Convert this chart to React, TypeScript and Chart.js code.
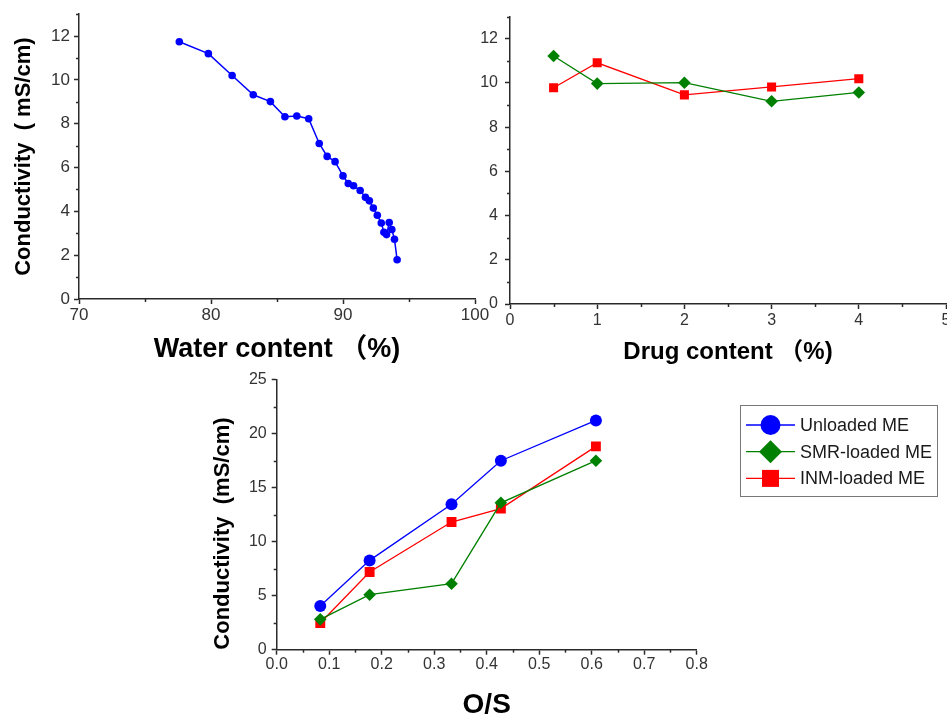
import React, { useEffect, useRef } from "react";
import { Chart, registerables } from "chart.js";

Chart.register(...registerables);

// ---------- data ----------
const waterContent = [77.6, 79.8, 81.6, 83.2, 84.5, 85.6, 86.5, 87.4, 88.2, 88.8, 89.4, 90.0, 90.4, 90.8, 91.3, 91.7, 92.0, 92.3, 92.6, 92.9, 93.1, 93.3, 93.5, 93.7, 93.9, 94.1];
const conductivityByWater = [11.74, 11.2, 10.2, 9.32, 9.01, 8.32, 8.35, 8.23, 7.1, 6.51, 6.27, 5.62, 5.27, 5.17, 4.95, 4.64, 4.48, 4.15, 3.82, 3.47, 3.05, 2.94, 3.49, 3.17, 2.73, 1.79];

const drugContent = [0.5, 1, 2, 3, 4];
const smrByDrug = [11.22, 9.97, 10.01, 9.17, 9.57];
const inmByDrug = [9.78, 10.91, 9.46, 9.82, 10.19];

const osRatio = [0.083, 0.177, 0.333, 0.427, 0.608];
const unloadedByOS = [4.04, 8.27, 13.46, 17.5, 21.23];
const smrByOS = [2.81, 5.09, 6.11, 13.6, 17.5];
const inmByOS = [2.47, 7.19, 11.82, 13.06, 18.83];

const legendLabels = ["Unloaded ME", "SMR-loaded ME", "INM-loaded ME"];

const waterTicks = [70, 80, 90, 100];
const topConductTicks = [0, 2, 4, 6, 8, 10, 12];
const drugTicks = [0, 1, 2, 3, 4, 5];
const osTicks = [0, 0.1, 0.2, 0.3, 0.4, 0.5, 0.6, 0.7, 0.8];
const bottomConductTicks = [0, 5, 10, 15, 20, 25];

// ---------- styles ----------
const FONT = "'Liberation Sans', Arial, 'Noto Sans CJK SC', sans-serif";
const AXIS = "#2a2a2a";
const TICK_TEXT = "#333333";
const BLUE = "#0000ff";
const GREEN = "#008000";
const RED = "#ff0000";
const CW = 1000;
const CH = 760;

const pts = (xs: number[], ys: number[]) => xs.map((x, i) => ({ x, y: ys[i] }));

const minorTicksPlugin = {
  id: "minorTicks",
  afterDraw(chart: any, _args: any, opts: any) {
    const ctx = chart.ctx;
    const area = chart.chartArea;
    ctx.save();
    ctx.strokeStyle = AXIS;
    ctx.lineWidth = 1.5;
    for (const id of ["x", "y"]) {
      const step = opts[id];
      if (!step) continue;
      const scale = chart.scales[id];
      const n = Math.round((scale.max - scale.min) / step);
      for (let i = 0; i <= n; i++) {
        const v = scale.min + i * step;
        if (scale.ticks.some((t: any) => Math.abs(t.value - v) < step * 1e-3)) continue;
        const p = Math.round(scale.getPixelForValue(v)) + 0.5;
        ctx.beginPath();
        if (id === "x") {
          ctx.moveTo(p, area.bottom);
          ctx.lineTo(p, area.bottom + 3);
        } else {
          ctx.moveTo(area.left, p);
          ctx.lineTo(area.left - 3, p);
        }
        ctx.stroke();
      }
    }
    ctx.restore();
  },
};

const boxLegendPlugin = {
  id: "boxLegend",
  afterDraw(chart: any, _args: any, opts: any) {
    if (!opts || !opts.display) return;
    const ctx = chart.ctx;
    const { left, top, width, height, rowTop, rowGap, lineX0, lineX1, textX, fontSize } = opts;
    ctx.save();
    ctx.strokeStyle = "#777";
    ctx.lineWidth = 1;
    ctx.strokeRect(left + 0.5, top + 0.5, width, height);
    chart.data.datasets.forEach((ds: any, i: number) => {
      const y = rowTop + i * rowGap;
      const cx = (lineX0 + lineX1) / 2;
      ctx.strokeStyle = ds.borderColor;
      ctx.lineWidth = 1.3;
      ctx.beginPath();
      ctx.moveTo(lineX0, y);
      ctx.lineTo(lineX1, y);
      ctx.stroke();
      ctx.fillStyle = ds.backgroundColor;
      ctx.beginPath();
      const r = opts.markerSizes[i];
      if (ds.pointStyle === "circle") {
        ctx.arc(cx, y, r, 0, Math.PI * 2);
      } else if (ds.pointStyle === "rectRot") {
        ctx.moveTo(cx - r, y);
        ctx.lineTo(cx, y - r);
        ctx.lineTo(cx + r, y);
        ctx.lineTo(cx, y + r);
        ctx.closePath();
      } else {
        ctx.rect(cx - r, y - r, 2 * r, 2 * r);
      }
      ctx.fill();
      ctx.fillStyle = "#1a1a1a";
      ctx.font = `${fontSize}px ${FONT}`;
      ctx.textBaseline = "middle";
      ctx.textAlign = "left";
      ctx.fillText(ds.label, textX, y + 1);
    });
    ctx.restore();
  },
};

Chart.register(minorTicksPlugin as any, boxLegendPlugin as any);

function axis(opts: {
  min: number;
  max: number;
  ticks: number[];
  fmt: (v: number) => string;
  tickSize: number;
  tickPad: number;
  fit: number;
  horizontal: boolean;
  title?: string;
  titleSize?: number;
  titlePad?: any;
  titleAlign?: string;
}) {
  return {
    type: "linear",
    position: opts.horizontal ? "bottom" : "left",
    min: opts.min,
    max: opts.max,
    bounds: "data",
    afterBuildTicks: (s: any) => {
      s.ticks = opts.ticks.map((v) => ({ value: v }));
    },
    afterFit: (s: any) => {
      if (opts.horizontal) s.height = opts.fit;
      else s.width = opts.fit;
    },
    border: { display: true, color: AXIS, width: 1.5 },
    grid: {
      display: true,
      drawOnChartArea: false,
      drawTicks: true,
      tickLength: 5,
      tickColor: AXIS,
      tickWidth: 1.5,
      color: AXIS,
    },
    ticks: {
      autoSkip: false,
      maxRotation: 0,
      padding: opts.tickPad,
      color: TICK_TEXT,
      font: { family: FONT, size: opts.tickSize },
      callback: (v: any) => opts.fmt(Number(v)),
    },
    title: opts.title
      ? {
          display: true,
          text: opts.title,
          color: "#000",
          align: opts.titleAlign || "center",
          font: { family: FONT, size: opts.titleSize, weight: "bold" },
          padding: opts.titlePad,
        }
      : { display: false },
  };
}

const common = {
  responsive: false,
  animation: false,
  devicePixelRatio: 1,
  events: [],
};

const configA: any = {
  type: "line",
  data: {
    datasets: [
      {
        label: "Water",
        data: pts(waterContent, conductivityByWater),
        borderColor: BLUE,
        backgroundColor: BLUE,
        borderWidth: 1.5,
        pointStyle: "circle",
        pointRadius: 3.8,
        pointBorderWidth: 0,
        tension: 0,
      },
    ],
  },
  options: {
    ...common,
    layout: { padding: { left: 0, top: 13, right: 525, bottom: 391 } },
    plugins: { legend: { display: false }, tooltip: { enabled: false }, minorTicks: { x: 5, y: 1 }, boxLegend: { display: false } },
    scales: {
      x: axis({ min: 70, max: 100, ticks: waterTicks, fmt: (v) => String(v), tickSize: 17, tickPad: 1, fit: 70, horizontal: true, title: "Water content （%)", titleSize: 27, titlePad: { top: 0, bottom: 3 } }),
      y: axis({ min: 0, max: 13, ticks: topConductTicks, fmt: (v) => String(v), tickSize: 17, tickPad: 4, fit: 79, horizontal: false, title: "Conductivity  ( mS/cm)", titleSize: 22, titlePad: { top: 11, bottom: 0 } }),
    },
  },
};

const configB: any = {
  type: "line",
  data: {
    datasets: [
      {
        label: legendLabels[1],
        data: pts(drugContent, smrByDrug),
        borderColor: GREEN,
        backgroundColor: GREEN,
        borderWidth: 1.3,
        pointStyle: "rectRot",
        pointRadius: 6.3,
        pointBorderWidth: 0,
      },
      {
        label: legendLabels[2],
        data: pts(drugContent, inmByDrug),
        borderColor: RED,
        backgroundColor: RED,
        borderWidth: 1.3,
        pointStyle: "rect",
        pointRadius: 6.4,
        pointBorderWidth: 0,
      },
    ],
  },
  options: {
    ...common,
    layout: { padding: { left: 450, top: 13, right: 54, bottom: 386 } },
    plugins: { legend: { display: false }, tooltip: { enabled: false }, minorTicks: { x: 0.5, y: 1 }, boxLegend: { display: false } },
    scales: {
      x: axis({ min: 0, max: 5, ticks: drugTicks, fmt: (v) => String(v), tickSize: 16, tickPad: 2.4, fit: 70, horizontal: true, title: "Drug content （%)", titleSize: 24, titlePad: { top: 0, bottom: 7.6 } }),
      y: axis({ min: 0, max: 13, ticks: topConductTicks, fmt: (v) => String(v), tickSize: 16, tickPad: 7, fit: 60, horizontal: false }),
    },
  },
};

const configC: any = {
  type: "line",
  data: {
    datasets: [
      {
        label: legendLabels[0],
        data: pts(osRatio, unloadedByOS),
        borderColor: BLUE,
        backgroundColor: BLUE,
        borderWidth: 1.3,
        pointStyle: "circle",
        pointRadius: 6,
        pointBorderWidth: 0,
      },
      {
        label: legendLabels[1],
        data: pts(osRatio, smrByOS),
        borderColor: GREEN,
        backgroundColor: GREEN,
        borderWidth: 1.3,
        pointStyle: "rectRot",
        pointRadius: 6.3,
        pointBorderWidth: 0,
      },
      {
        label: legendLabels[2],
        data: pts(osRatio, inmByOS),
        borderColor: RED,
        backgroundColor: RED,
        borderWidth: 1.3,
        pointStyle: "rect",
        pointRadius: 7,
        pointBorderWidth: 0,
      },
    ],
  },
  options: {
    ...common,
    layout: { padding: { left: 206.7, top: 379.7, right: 303.3, bottom: 30.3 } },
    plugins: {
      legend: { display: false },
      tooltip: { enabled: false },
      minorTicks: { x: 0.05, y: 2.5 },
      boxLegend: {
        display: true,
        left: 740,
        top: 405,
        width: 197,
        height: 91,
        rowTop: 425,
        rowGap: 26.7,
        lineX0: 746,
        lineX1: 795,
        textX: 800,
        fontSize: 18,
        markerSizes: [10, 11.5, 8.5],
      },
    },
    scales: {
      x: axis({ min: 0, max: 0.8, ticks: osTicks, fmt: (v) => v.toFixed(1), tickSize: 16, tickPad: 0.7, fit: 80, horizontal: true, title: "O/S", titleSize: 28, titlePad: { top: 0, bottom: 7.9 } }),
      y: axis({ min: 0, max: 25, ticks: bottomConductTicks, fmt: (v) => String(v), tickSize: 16, tickPad: 5, fit: 70, horizontal: false, title: "Conductivity  (mS/cm)", titleSize: 22, titlePad: { top: 3, bottom: 0 }, titleAlign: "start" }),
    },
  },
};

function ChartCanvas({ config }: { config: any }) {
  const ref = useRef<HTMLCanvasElement | null>(null);
  useEffect(() => {
    if (!ref.current) return;
    const chart = new Chart(ref.current, config);
    return () => chart.destroy();
  }, [config]);
  return (
    <canvas
      ref={ref}
      width={CW}
      height={CH}
      style={{ position: "absolute", left: 0, top: 0, width: CW, height: CH }}
    />
  );
}

export default function App() {
  return (
    <div
      style={{
        position: "fixed",
        left: 0,
        top: 0,
        width: 947,
        height: 716,
        overflow: "hidden",
        background: "#ffffff",
      }}
    >
      <ChartCanvas config={configA} />
      <ChartCanvas config={configB} />
      <ChartCanvas config={configC} />
    </div>
  );
}
